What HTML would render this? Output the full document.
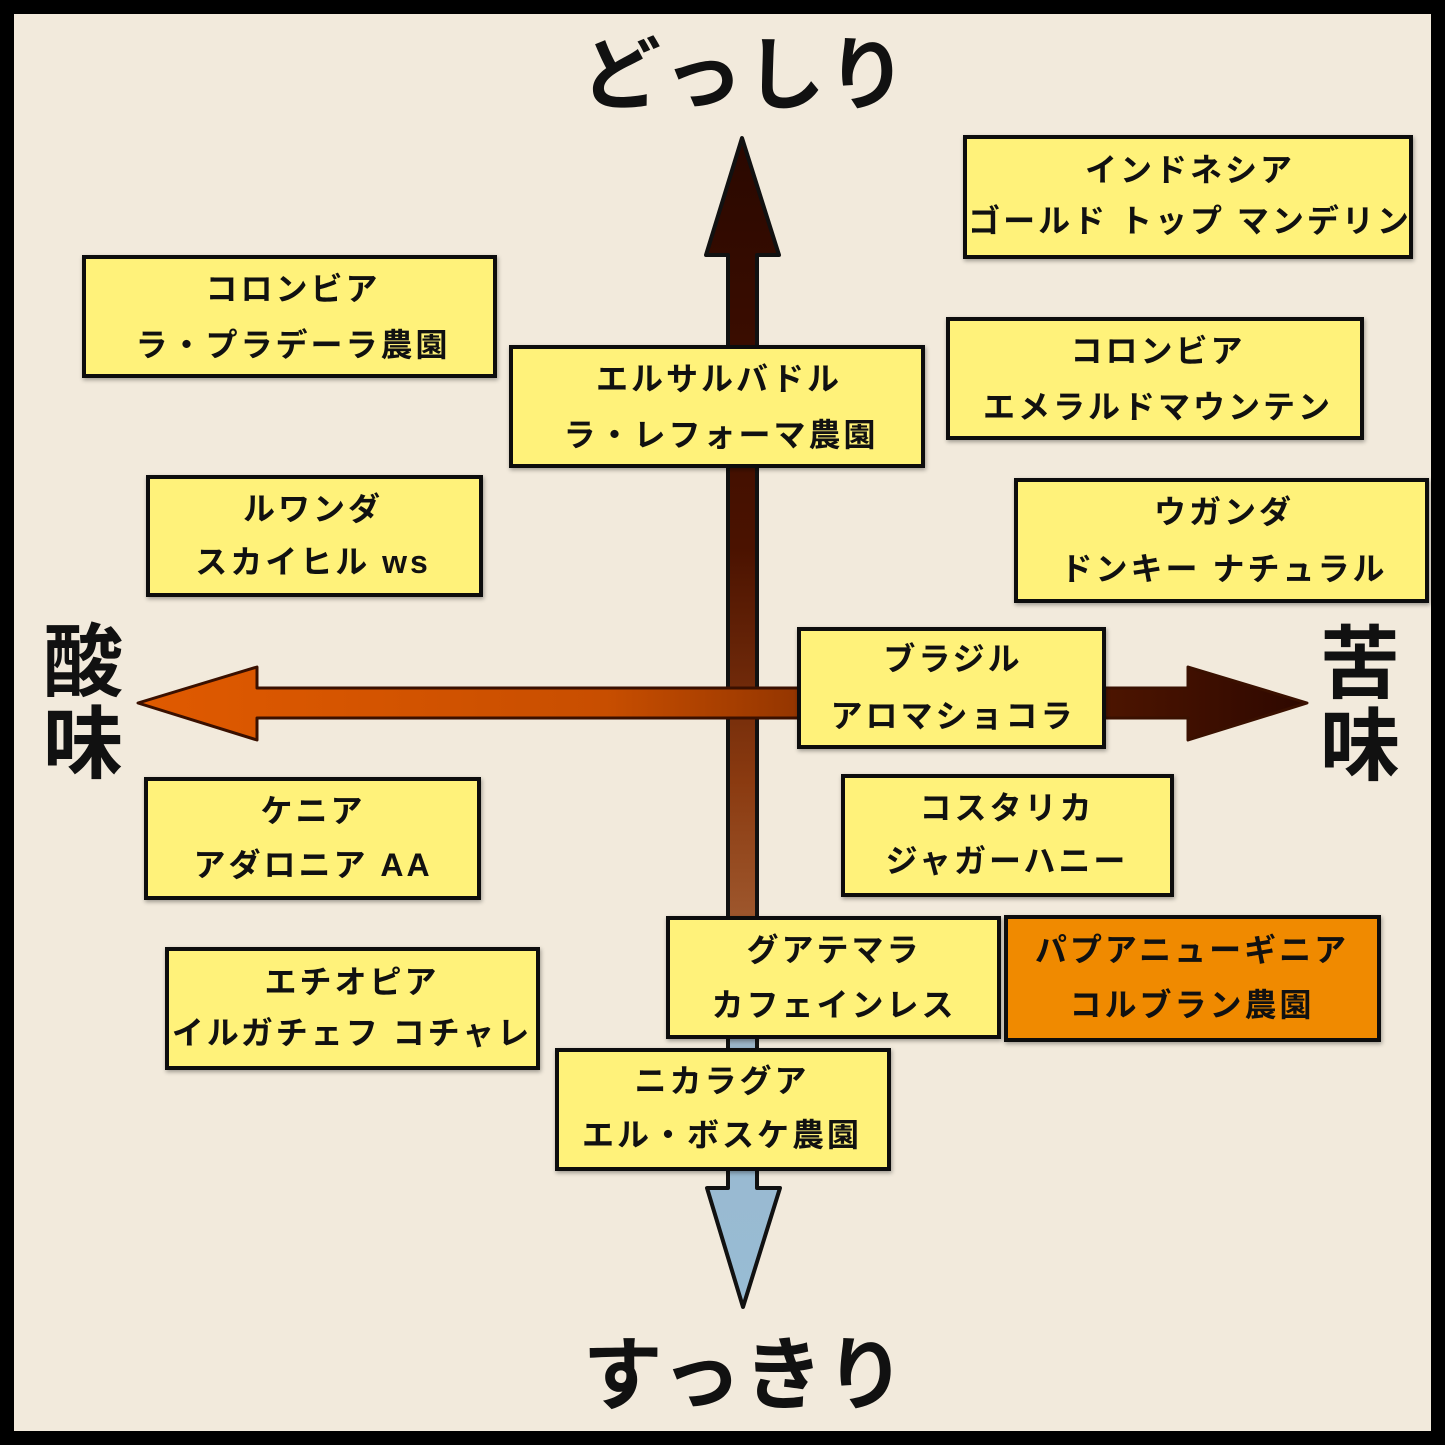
<!DOCTYPE html>
<html><head><meta charset="utf-8"><style>
html,body{margin:0;padding:0;background:#000}
svg{display:block}
text{font-family:"Liberation Sans","Noto Sans CJK JP",sans-serif;fill:#111}
.b{font-size:32px;letter-spacing:3px;font-weight:600}
.big{font-size:80px;font-weight:600}
</style></head><body>
<svg width="1445" height="1445" viewBox="0 0 1445 1445" xmlns="http://www.w3.org/2000/svg">
<defs>
<linearGradient id="vg" x1="0" y1="0" x2="0" y2="1">
<stop offset="0" stop-color="#2a0800"/><stop offset="0.35" stop-color="#4a1200"/>
<stop offset="0.55" stop-color="#8a3a10"/><stop offset="0.68" stop-color="#a05a30"/>
<stop offset="0.78" stop-color="#9ab8cf"/><stop offset="1" stop-color="#98bcd4"/>
</linearGradient>
<linearGradient id="hg" x1="0" y1="0" x2="1" y2="0">
<stop offset="0" stop-color="#e05a00"/><stop offset="0.4" stop-color="#c84e00"/>
<stop offset="0.75" stop-color="#5a1a00"/><stop offset="1" stop-color="#2e0800"/>
</linearGradient>
<filter id="sh" x="-5%" y="-5%" width="110%" height="115%"><feDropShadow dx="1" dy="2" stdDeviation="2" flood-opacity="0.35"/></filter>
</defs>
<rect x="14" y="14" width="1417" height="1417" fill="#f2eadc"/>
<path d="M742,138 L779,255 L757,255 L757,1188 L780,1188 L743,1307 L707,1188 L728,1188 L728,255 L706,255 Z" fill="url(#vg)" stroke="#111" stroke-width="4" stroke-linejoin="round"/>
<path d="M138,703 L257,667 L257,688 L1188,688 L1188,667 L1307,703 L1188,740 L1188,718 L257,718 L257,740 Z" fill="url(#hg)" stroke="#3a1000" stroke-width="3" stroke-linejoin="round"/>
<text class="big" x="745" y="103" text-anchor="middle" letter-spacing="2">どっしり</text>
<text class="big" x="745" y="1403" text-anchor="middle" letter-spacing="2">すっきり</text>
<text class="big" x="83" y="690" text-anchor="middle">酸</text>
<text class="big" x="83" y="772" text-anchor="middle">味</text>
<text class="big" x="1360" y="692" text-anchor="middle">苦</text>
<text class="big" x="1360" y="774" text-anchor="middle">味</text>
<g stroke="#111" stroke-width="4" filter="url(#sh)" fill="#fff27a">
<rect x="965" y="137" width="446" height="120"/>
<rect x="84" y="257" width="411" height="119"/>
<rect x="511" y="347" width="412" height="119"/>
<rect x="948" y="319" width="414" height="119"/>
<rect x="148" y="477" width="333" height="118"/>
<rect x="1016" y="480" width="411" height="121"/>
<rect x="799" y="629" width="305" height="118"/>
<rect x="146" y="779" width="333" height="119"/>
<rect x="843" y="776" width="329" height="119"/>
<rect x="668" y="918" width="331" height="119"/>
<rect x="1006" y="917" width="373" height="123" fill="#f08a00"/>
<rect x="167" y="949" width="371" height="119"/>
<rect x="557" y="1050" width="332" height="119"/>
</g>
<g text-anchor="middle">
<text class="b" x="1190" y="181">インドネシア</text>
<text class="b" x="1190" y="232" letter-spacing="2">ゴールド トップ マンデリン</text>
<text class="b" x="293" y="300">コロンビア</text>
<text class="b" x="293" y="356">ラ・プラデーラ農園</text>
<text class="b" x="719" y="390">エルサルバドル</text>
<text class="b" x="721" y="446">ラ・レフォーマ農園</text>
<text class="b" x="1158" y="362">コロンビア</text>
<text class="b" x="1158" y="418">エメラルドマウンテン</text>
<text class="b" x="313" y="520">ルワンダ</text>
<text class="b" x="313" y="573">スカイヒル ws</text>
<text class="b" x="1224" y="523">ウガンダ</text>
<text class="b" x="1224" y="580">ドンキー ナチュラル</text>
<text class="b" x="953" y="670">ブラジル</text>
<text class="b" x="953" y="727">アロマショコラ</text>
<text class="b" x="313" y="822">ケニア</text>
<text class="b" x="313" y="876">アダロニア AA</text>
<text class="b" x="1007" y="819">コスタリカ</text>
<text class="b" x="1007" y="872">ジャガーハニー</text>
<text class="b" x="834" y="961">グアテマラ</text>
<text class="b" x="834" y="1016">カフェインレス</text>
<text class="b" x="1192" y="961">パプアニューギニア</text>
<text class="b" x="1192" y="1016">コルブラン農園</text>
<text class="b" x="352" y="993">エチオピア</text>
<text class="b" x="352" y="1044" letter-spacing="2">イルガチェフ コチャレ</text>
<text class="b" x="722" y="1092">ニカラグア</text>
<text class="b" x="722" y="1146">エル・ボスケ農園</text>
</g>
</svg>
</body></html>
